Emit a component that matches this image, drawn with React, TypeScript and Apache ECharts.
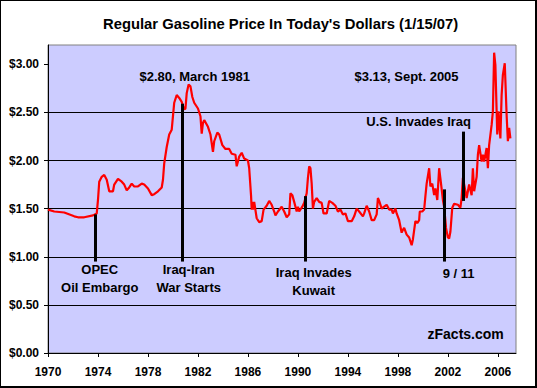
import React, { useEffect, useRef } from 'react';
import * as echarts from 'echarts';

const titleText = "Regular Gasoline Price In Today's Dollars (1/15/07)";

const years = [
  1970.0, 1970.5, 1971.3, 1972.1, 1972.4, 1972.9, 1973.6, 1973.9, 1974.0, 1974.1,
  1974.3, 1974.5, 1974.7, 1974.9, 1975.2, 1975.3, 1975.6, 1975.9, 1976.1, 1976.3,
  1976.5, 1976.7, 1976.9, 1977.2, 1977.5, 1977.7, 1978.0, 1978.3, 1978.5, 1978.8,
  1979.1, 1979.2, 1979.3, 1979.5, 1979.7, 1979.9, 1980.0, 1980.1, 1980.3, 1980.5,
  1980.7, 1980.9, 1981.0, 1981.1, 1981.25, 1981.4, 1981.55, 1981.7, 1982.0, 1982.2,
  1982.3, 1982.4, 1982.5, 1982.8, 1983.0, 1983.2, 1983.3, 1983.55, 1983.7, 1983.95,
  1984.2, 1984.5, 1984.7, 1985.0, 1985.1, 1985.3, 1985.5, 1985.7, 1986.0, 1986.1,
  1986.25, 1986.3, 1986.35, 1986.4, 1986.5, 1986.7, 1986.9, 1987.1, 1987.25, 1987.5,
  1987.7, 1987.9, 1988.1, 1988.2, 1988.4, 1988.7, 1988.9, 1989.1, 1989.3, 1989.4,
  1989.55, 1989.7, 1989.9, 1990.0, 1990.1, 1990.35, 1990.5, 1990.7, 1990.8, 1990.9,
  1991.0, 1991.1, 1991.2, 1991.3, 1991.5, 1991.7, 1991.9, 1992.05, 1992.3, 1992.5,
  1992.75, 1993.0, 1993.2, 1993.4, 1993.6, 1993.8, 1994.0, 1994.3, 1994.5, 1994.7,
  1994.9, 1995.2, 1995.3, 1995.5, 1995.7, 1995.9, 1996.1, 1996.3, 1996.4, 1996.5,
  1996.7, 1996.9, 1997.1, 1997.3, 1997.5, 1997.6, 1997.8, 1997.9, 1998.1, 1998.3,
  1998.4, 1998.5, 1998.7, 1998.9, 1999.1, 1999.2, 1999.4, 1999.55, 1999.7, 1999.75,
  1999.95, 2000.1, 2000.2, 2000.3, 2000.5, 2000.6, 2000.75, 2000.9, 2001.0, 2001.15,
  2001.3, 2001.45, 2001.6, 2001.7, 2001.85, 2002.0, 2002.1, 2002.2, 2002.35, 2002.5,
  2002.8, 2003.0, 2003.1, 2003.2, 2003.3, 2003.5, 2003.7, 2003.9, 2004.0, 2004.1,
  2004.3, 2004.4, 2004.5, 2004.7, 2004.8, 2004.9, 2005.1, 2005.2, 2005.3, 2005.5,
  2005.6, 2005.7, 2005.8, 2005.95, 2006.05, 2006.2, 2006.3, 2006.4, 2006.55, 2006.7,
  2006.8, 2006.9, 2007.0,
];

const prices = [
  1.49, 1.47, 1.46, 1.42, 1.41, 1.41, 1.43, 1.45, 1.59, 1.78,
  1.83, 1.85, 1.80, 1.68, 1.68, 1.75, 1.81, 1.78, 1.75, 1.69,
  1.72, 1.76, 1.73, 1.73, 1.76, 1.75, 1.71, 1.64, 1.65, 1.68,
  1.72, 1.80, 1.97, 2.14, 2.27, 2.32, 2.46, 2.60, 2.68, 2.65,
  2.61, 2.53, 2.54, 2.70, 2.79, 2.77, 2.66, 2.60, 2.54, 2.46,
  2.28, 2.39, 2.42, 2.35, 2.27, 2.09, 2.20, 2.29, 2.27, 2.16,
  2.12, 2.12, 2.07, 2.06, 1.94, 2.04, 2.08, 2.02, 2.00, 1.92,
  1.63, 1.49, 1.57, 1.49, 1.57, 1.40, 1.36, 1.37, 1.49, 1.53,
  1.58, 1.54, 1.47, 1.43, 1.47, 1.52, 1.47, 1.41, 1.44, 1.66,
  1.64, 1.57, 1.47, 1.52, 1.47, 1.52, 1.56, 1.66, 1.82, 1.94,
  1.92, 1.76, 1.50, 1.57, 1.61, 1.57, 1.56, 1.45, 1.45, 1.58,
  1.56, 1.53, 1.47, 1.49, 1.44, 1.45, 1.37, 1.37, 1.42, 1.50,
  1.47, 1.42, 1.45, 1.53, 1.47, 1.38, 1.38, 1.44, 1.61, 1.58,
  1.50, 1.52, 1.54, 1.49, 1.49, 1.45, 1.50, 1.45, 1.38, 1.25,
  1.28, 1.30, 1.23, 1.20, 1.12, 1.18, 1.37, 1.35, 1.38, 1.47,
  1.47, 1.49, 1.63, 1.76, 1.92, 1.73, 1.76, 1.64, 1.71, 1.59,
  1.92, 1.76, 1.59, 1.52, 1.30, 1.20, 1.19, 1.26, 1.51, 1.55,
  1.54, 1.51, 1.61, 1.82, 1.75, 1.61, 1.75, 1.64, 1.92, 1.68,
  1.83, 2.06, 2.16, 1.99, 2.06, 1.99, 2.13, 1.92, 2.16, 2.37,
  2.51, 3.12, 2.99, 2.27, 2.51, 2.23, 2.68, 2.89, 3.01, 2.47,
  2.20, 2.34, 2.23,
];

const xTickYears = [1970, 1974, 1978, 1982, 1986, 1990, 1994, 1998, 2002, 2006];
const yTickValues = [0, 0.5, 1, 1.5, 2, 2.5, 3];

const eventYears = [1973.82, 1980.72, 1990.59, 2001.7, 2003.25];
const eventTops = [1.44, 2.59, 1.63, 1.7, 2.3];
const eventBottoms = [0.95, 0.95, 0.95, 0.95, 1.58];

const noteTexts = [
  'OPEC\nOil Embargo',
  'Iraq-Iran\nWar Starts',
  'Iraq Invades\nKuwait',
  '9 / 11',
  'U.S. Invades Iraq',
  '$2.80, March 1981',
  '$3.13, Sept. 2005',
];
const noteYears = [1974.14, 1981.26, 1991.26, 2002.86, 1999.66, 1981.74, 1998.69];
const noteValues = [0.77, 0.77, 0.74, 0.83, 2.41, 2.87, 2.87];

const sourceText = 'zFacts.com';
const sourceYear = 2003.42;
const sourceValue = 0.2;

const FONT = '"Liberation Sans", Arial, sans-serif';

export default function App() {
  const ref = useRef<HTMLDivElement>(null);

  useEffect(() => {
    document.body.style.margin = '0';
    if (!ref.current) return;
    const chart = echarts.init(ref.current, undefined, { renderer: 'svg' });

    const lineData = years.map((y, i) => [y, prices[i]]);
    const eventLines = eventYears.map((y, i) => [
      { coord: [y, eventTops[i]] },
      { coord: [y, eventBottoms[i]] },
    ]);
    const notes: any[] = noteTexts.map((t, i) => ({
      coord: [noteYears[i], noteValues[i]],
      label: { formatter: t },
    }));
    notes.push({
      coord: [sourceYear, sourceValue],
      label: { formatter: sourceText, fontSize: 14 },
    });

    chart.setOption({
      animation: false,
      backgroundColor: 'transparent',
      title: {
        text: titleText,
        left: 103,
        top: 16,
        padding: 0,
        textStyle: { fontSize: 14.8, fontWeight: 'bold', color: '#000', fontFamily: FONT },
      },
      graphic: [
        { type: 'rect', z: -10, silent: true, shape: { x: 0, y: 0, width: 537, height: 388 }, style: { fill: '#000' } },
        { type: 'rect', z: -9, silent: true, shape: { x: 1, y: 1, width: 534, height: 385 }, style: { fill: '#fff' } },
      ],
      grid: {
        left: 48,
        right: 21,
        top: 45,
        bottom: 35,
        containLabel: false,
        outerBoundsMode: 'none',
        show: true,
        backgroundColor: '#CCCCFF',
        borderColor: '#808080',
        borderWidth: 1,
      },
      xAxis: {
        type: 'value',
        min: 1970,
        max: 2007.45,
        axisLine: { show: true, onZero: false, lineStyle: { color: '#000', width: 1 } },
        axisTick: { show: true, length: 4, customValues: xTickYears, lineStyle: { color: '#000' } },
        axisLabel: {
          customValues: xTickYears,
          formatter: (v: number) => String(Math.round(v)),
          color: '#000',
          fontSize: 12,
          fontWeight: 'bold',
          fontFamily: FONT,
          margin: 13,
        },
        splitLine: { show: false },
      },
      yAxis: {
        type: 'value',
        min: 0,
        max: 3.2,
        interval: 0.5,
        axisLine: { show: true, lineStyle: { color: '#000', width: 1 } },
        axisTick: { show: true, length: 4, customValues: yTickValues, lineStyle: { color: '#000' } },
        axisLabel: {
          customValues: yTickValues,
          formatter: (v: number) => (v > 3.01 ? '' : '$' + v.toFixed(2)),
          color: '#000',
          fontSize: 12,
          fontWeight: 'bold',
          fontFamily: FONT,
          margin: 9,
        },
        splitLine: { show: true, showMaxLine: false, lineStyle: { color: '#000', width: 1 } },
      },
      series: [
        {
          type: 'line',
          name: 'events',
          data: [],
          z: 1,
          silent: true,
          markLine: {
            silent: true,
            symbol: ['none', 'none'],
            label: { show: false },
            lineStyle: { color: '#000', width: 3, type: 'solid' },
            emphasis: { disabled: true },
            data: eventLines,
          },
        },
        {
          type: 'line',
          name: 'Regular Gasoline',
          data: lineData,
          z: 3,
          showSymbol: false,
          symbol: 'none',
          silent: true,
          lineStyle: { color: '#FF0000', width: 2.2 },
          markPoint: {
            silent: true,
            symbol: 'circle',
            symbolSize: 0,
            itemStyle: { color: 'transparent' },
            label: {
              show: true,
              position: 'inside',
              color: '#000',
              fontSize: 13,
              fontWeight: 'bold',
              fontFamily: FONT,
              lineHeight: 18,
              align: 'center',
              verticalAlign: 'middle',
            },
            data: notes,
          },
        },
      ],
    });

    return () => chart.dispose();
  }, []);

  return <div ref={ref} style={{ width: 537, height: 388 }} />;
}
